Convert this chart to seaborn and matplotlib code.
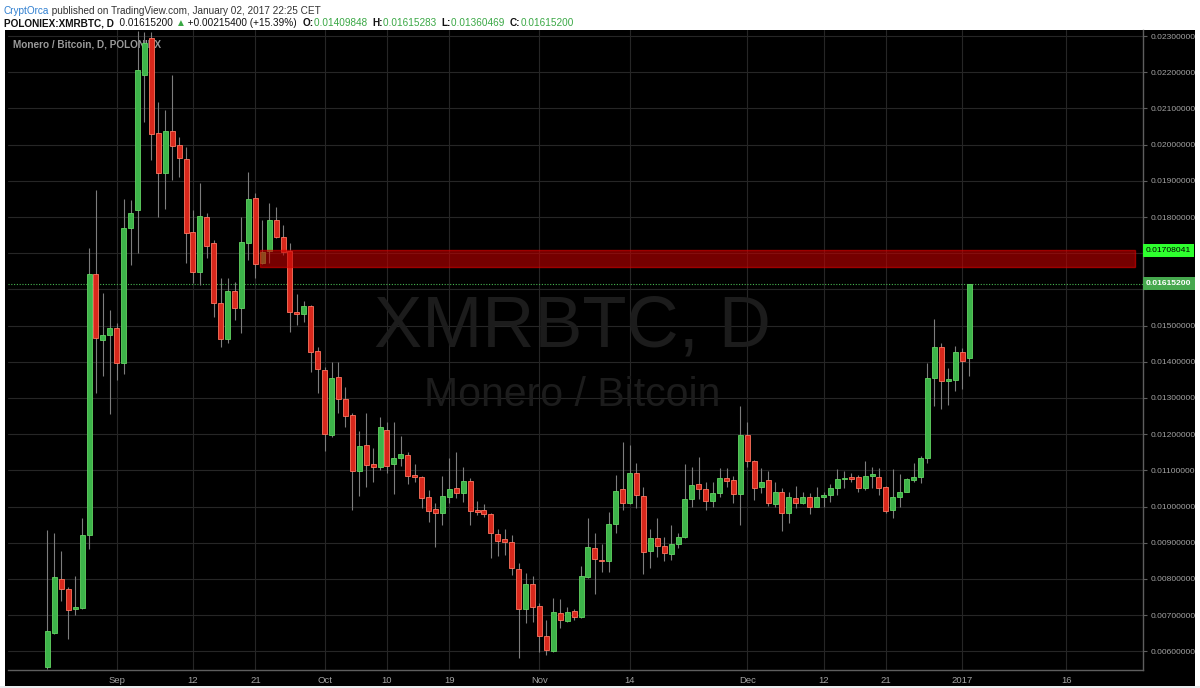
import numpy as np
import pandas as pd
import matplotlib
matplotlib.use("Agg")
import matplotlib.pyplot as plt
import matplotlib.dates as mdates
from matplotlib.patches import Rectangle
import seaborn as sns

# daily candles, POLONIEX XMR/BTC, 2016-08-22 .. 2017-01-02
dates = pd.date_range("2016-08-22", "2017-01-02", freq="D")

opens = [0.00557, 0.00651, 0.00800, 0.00773, 0.00718, 0.00720, 0.00922, 0.01643, 0.01460, 0.01474,
         0.01493, 0.01397, 0.01770, 0.01819, 0.02192, 0.02295, 0.02032, 0.01922, 0.02038, 0.01999,
         0.01960, 0.01759, 0.01648, 0.01800, 0.01728, 0.01563, 0.01463, 0.01596, 0.01549, 0.01728,
         0.01853, 0.01673, 0.01706, 0.01792, 0.01745, 0.01706, 0.01538, 0.01532, 0.01554, 0.01430,
         0.01377, 0.01198, 0.01358, 0.01297, 0.01253, 0.01099, 0.01170, 0.01118, 0.01110, 0.01212,
         0.01118, 0.01134, 0.01143, 0.01087, 0.01082, 0.01027, 0.00994, 0.00983, 0.01027, 0.01052,
         0.01038, 0.01071, 0.00991, 0.00991, 0.00980, 0.00925, 0.00911, 0.00903, 0.00828, 0.00718,
         0.00787, 0.00726, 0.00643, 0.00601, 0.00706, 0.00684, 0.00712, 0.00695, 0.00806, 0.00886,
         0.00853, 0.00850, 0.00952, 0.01049, 0.01010, 0.01093, 0.01030, 0.00878, 0.00914, 0.00891,
         0.00869, 0.00897, 0.00916, 0.01021, 0.01063, 0.01049, 0.01016, 0.01038, 0.01079, 0.01074,
         0.01035, 0.01198, 0.01126, 0.01054, 0.01074, 0.01007, 0.01041, 0.00983, 0.01024, 0.01010,
         0.01027, 0.00999, 0.01027, 0.01032, 0.01052, 0.01076, 0.01082, 0.01082, 0.01052, 0.01085,
         0.01082, 0.01054, 0.00991, 0.01027, 0.01041, 0.01074, 0.01082, 0.01134, 0.01355, 0.01441,
         0.01347, 0.01350, 0.01427, 0.01409848]

highs = [0.00935, 0.00927, 0.00878, 0.00778, 0.00809, 0.00969, 0.01714, 0.01875, 0.01590, 0.01543,
         0.01507, 0.01850, 0.01847, 0.02314, 0.02311, 0.02311, 0.02118, 0.02096, 0.02192, 0.02021,
         0.01993, 0.01819, 0.01894, 0.01811, 0.01737, 0.01632, 0.01632, 0.01621, 0.01800, 0.01924,
         0.01866, 0.01792, 0.01839, 0.01828, 0.01778, 0.01728, 0.01587, 0.01568, 0.01557, 0.01441,
         0.01386, 0.01400, 0.01400, 0.01331, 0.01259, 0.01209, 0.01259, 0.01162, 0.01248, 0.01234,
         0.01234, 0.01195, 0.01151, 0.01118, 0.01085, 0.01046, 0.01010, 0.01085, 0.01134, 0.01151,
         0.01110, 0.01079, 0.01016, 0.01007, 0.00983, 0.00938, 0.00938, 0.00922, 0.00845, 0.00817,
         0.00809, 0.00734, 0.00687, 0.00748, 0.00745, 0.00723, 0.00718, 0.00836, 0.00969, 0.00927,
         0.00897, 0.00985, 0.01087, 0.01179, 0.01170, 0.01121, 0.01054, 0.00938, 0.00969, 0.00916,
         0.00949, 0.00927, 0.01118, 0.01110, 0.01137, 0.01068, 0.01068, 0.01107, 0.01107, 0.01085,
         0.01278, 0.01234, 0.01129, 0.01107, 0.01099, 0.01068, 0.01052, 0.01041, 0.01057, 0.01041,
         0.01038, 0.01054, 0.01041, 0.01063, 0.01104, 0.01099, 0.01093, 0.01087, 0.01126, 0.01110,
         0.01107, 0.01057, 0.01104, 0.01090, 0.01079, 0.01121, 0.01140, 0.01397, 0.01518, 0.01452,
         0.01383, 0.01444, 0.01438, 0.01615283]

lows = [0.00552, 0.00648, 0.00740, 0.00635, 0.00701, 0.00718, 0.00883, 0.01314, 0.01361, 0.01256,
        0.01350, 0.01366, 0.01667, 0.01701, 0.02062, 0.01958, 0.01800, 0.01822, 0.01902, 0.01910,
        0.01673, 0.01618, 0.01612, 0.01687, 0.01524, 0.01441, 0.01452, 0.01516, 0.01480, 0.01681,
        0.01632, 0.01670, 0.01673, 0.01742, 0.01695, 0.01482, 0.01502, 0.01510, 0.01372, 0.01314,
        0.01154, 0.01192, 0.01259, 0.01220, 0.00991, 0.01030, 0.01054, 0.01068, 0.01101, 0.01093,
        0.01035, 0.01112, 0.01063, 0.01068, 0.00996, 0.00958, 0.00889, 0.00949, 0.01010, 0.01024,
        0.01013, 0.00949, 0.00977, 0.00972, 0.00858, 0.00864, 0.00867, 0.00811, 0.00582, 0.00679,
        0.00682, 0.00599, 0.00590, 0.00599, 0.00665, 0.00682, 0.00687, 0.00693, 0.00803, 0.00759,
        0.00820, 0.00820, 0.00927, 0.00991, 0.01007, 0.00996, 0.00814, 0.00831, 0.00861, 0.00850,
        0.00853, 0.00886, 0.00914, 0.00999, 0.01021, 0.00991, 0.00999, 0.01027, 0.01054, 0.01010,
        0.00949, 0.01110, 0.01018, 0.01038, 0.01002, 0.00999, 0.00933, 0.00955, 0.00996, 0.01007,
        0.00980, 0.00999, 0.00999, 0.01013, 0.01032, 0.01052, 0.01068, 0.01041, 0.01046, 0.01052,
        0.01032, 0.00983, 0.00969, 0.00999, 0.01041, 0.01068, 0.01065, 0.01121, 0.01278, 0.01270,
        0.01281, 0.01319, 0.01325, 0.01360469]

closes = [0.00657, 0.00806, 0.00773, 0.00715, 0.00723, 0.00922, 0.01643, 0.01466, 0.01474, 0.01493,
          0.01397, 0.01770, 0.01811, 0.02206, 0.02281, 0.02029, 0.01922, 0.02038, 0.01996, 0.01963,
          0.01756, 0.01648, 0.01803, 0.01720, 0.01563, 0.01463, 0.01596, 0.01549, 0.01731, 0.01850,
          0.01670, 0.01703, 0.01792, 0.01745, 0.01703, 0.01538, 0.01532, 0.01554, 0.01427, 0.01380,
          0.01201, 0.01355, 0.01297, 0.01250, 0.01099, 0.01168, 0.01115, 0.01110, 0.01220, 0.01112,
          0.01134, 0.01145, 0.01085, 0.01082, 0.01024, 0.00988, 0.00983, 0.01030, 0.01049, 0.01038,
          0.01071, 0.00988, 0.00985, 0.00980, 0.00927, 0.00905, 0.00903, 0.00831, 0.00718, 0.00787,
          0.00723, 0.00643, 0.00604, 0.00709, 0.00687, 0.00709, 0.00695, 0.00809, 0.00889, 0.00856,
          0.00850, 0.00952, 0.01043, 0.01010, 0.01093, 0.01032, 0.00875, 0.00914, 0.00891, 0.00872,
          0.00897, 0.00916, 0.01021, 0.01060, 0.01049, 0.01016, 0.01038, 0.01079, 0.01071, 0.01035,
          0.01198, 0.01126, 0.01052, 0.01068, 0.01010, 0.01041, 0.00983, 0.01027, 0.01010, 0.01027,
          0.00999, 0.01027, 0.01032, 0.01052, 0.01076, 0.01079, 0.01076, 0.01052, 0.01085, 0.01090,
          0.01052, 0.00988, 0.01027, 0.01041, 0.01076, 0.01082, 0.01134, 0.01355, 0.01441, 0.01347,
          0.01353, 0.01427, 0.01402, 0.01615200]

tick_dates = ["2016-09-01", "2016-09-12", "2016-09-21", "2016-10-01", "2016-10-10", "2016-10-19",
              "2016-11-01", "2016-11-14", "2016-12-01", "2016-12-12", "2016-12-21", "2017-01-01",
              "2017-01-16"]
tick_labels = ["Sep", "12", "21", "Oct", "10", "19", "Nov", "14", "Dec", "12", "21", "2017", "16"]
price_ticks = [0.006, 0.007, 0.008, 0.009, 0.010, 0.011, 0.012, 0.013, 0.014, 0.015,
               0.016, 0.017, 0.018, 0.019, 0.020, 0.021, 0.022, 0.023]
# these two labels sit under the price tags in the original
hidden_ticks = [0.016, 0.017]

# resistance zone drawn by the author
zone_start, zone_end = "2016-09-21 16:00", "2017-01-25 22:00"
zone_low, zone_high = 0.01662, 0.01708041

header_1 = [("CryptOrca", "#2f7fd0", "normal"),
            (" published on TradingView.com, January 02, 2017 22:25 CET", "#333333", "normal")]
header_2 = [("POLONIEX:XMRBTC, D", "#111111", "bold"),
            ("  0.01615200 ", "#111111", "normal"),
            ("\u25B2", "#3aa845", "normal"),
            (" +0.00215400 (+15.39%)  ", "#111111", "normal"),
            ("O:", "#111111", "bold"), ("0.01409848  ", "#3aa845", "normal"),
            ("H:", "#111111", "bold"), ("0.01615283  ", "#3aa845", "normal"),
            ("L:", "#111111", "bold"), ("0.01360469  ", "#3aa845", "normal"),
            ("C:", "#111111", "bold"), ("0.01615200", "#3aa845", "normal")]

sns.set_style("dark", {"axes.facecolor": "black", "grid.color": "#262626"})
plt.rcParams["font.family"] = ["Liberation Sans", "DejaVu Sans"]

W, H = 1200, 688
fig = plt.figure(figsize=(12, 6.88), dpi=100, facecolor="white")
fig.add_artist(Rectangle((0, 0), 1, 2 / H, transform=fig.transFigure,
                         facecolor="#e9ecee", edgecolor="none", zorder=0))
fig.add_artist(Rectangle((5 / W, 2 / H), 1190 / W, 656 / H, transform=fig.transFigure,
                         facecolor="black", edgecolor="none", zorder=0))

ax = fig.add_axes([8 / W, (H - 670) / H, 1135 / W, 640 / H])
ax.set_facecolor("black")

x = mdates.date2num(dates)
o, h, l, c = (np.array(v) for v in (opens, highs, lows, closes))
up = c >= o
body_low = np.minimum(o, c)
body_h = np.maximum(np.abs(c - o), 0.00003)

ax.vlines(x, l, h, color="#7d7d7d", lw=0.8, zorder=3)
ax.bar(x[up], body_h[up], bottom=body_low[up], width=0.72,
       color="#3db44a", edgecolor="#63d463", linewidth=0.6, zorder=4)
ax.bar(x[~up], body_h[~up], bottom=body_low[~up], width=0.72,
       color="#d8281c", edgecolor="#ff7560", linewidth=0.6, zorder=4)

zs, ze = mdates.date2num(pd.Timestamp(zone_start)), mdates.date2num(pd.Timestamp(zone_end))
ax.add_patch(Rectangle((zs, zone_low), ze - zs, zone_high - zone_low,
                       facecolor="#c40000", edgecolor="#e00000", alpha=0.6, lw=1, zorder=5))

last_close = closes[-1]
ax.axhline(last_close, color="#46b450", ls=(0, (1, 1.5)), lw=0.8, zorder=2)

# watermark and pane title
ax.text(0.497, 0.535, "XMRBTC, D", transform=ax.transAxes, ha="center", va="center",
        fontsize=52, color="#1c1c1c", zorder=1)
ax.text(0.497, 0.43, "Monero / Bitcoin", transform=ax.transAxes, ha="center", va="center",
        fontsize=29.5, color="#1c1c1c", zorder=1)
ax.text(0.004, 0.977, "Monero / Bitcoin, D, POLONIEX", transform=ax.transAxes,
        ha="left", va="center", fontsize=7.2, fontweight="bold", color="#9a9a9a", zorder=1)

sep1 = mdates.date2num(pd.Timestamp("2016-09-01"))
ax.set_xlim(sep1 - 15.69, sep1 + 148.1)
ax.set_ylim(0.005486, 0.023166)

ax.set_xticks(mdates.date2num(pd.to_datetime(tick_dates)))
ax.set_xticklabels(tick_labels)
ax.yaxis.tick_right()
ax.set_yticks(price_ticks)
ax.set_yticklabels(["" if p in hidden_ticks else f"{p:.8f}" for p in price_ticks])
ax.tick_params(axis="both", colors="#5e5e5e", labelcolor="#a3a3a3",
               length=3, width=0.8, direction="out")
ax.tick_params(axis="x", pad=1.5, labelsize=6.8)
ax.tick_params(axis="y", pad=2.2, labelsize=6.1)
ax.grid(True, color="#262626", lw=0.8)
for side in ("top", "left"):
    ax.spines[side].set_visible(False)
for side in ("bottom", "right"):
    ax.spines[side].set_color("#5e5e5e")
    ax.spines[side].set_linewidth(1)

# price tags on the axis
tags = [(zone_high, "#2eff2e", "black", "normal"), (last_close, "#46a84e", "white", "bold")]
for value, face, fg, weight in tags:
    ax.annotate(f"{value:.8f}", xy=(1, value), xycoords=("axes fraction", "data"),
                xytext=(2.2, 0), textcoords="offset points", ha="left", va="center",
                fontsize=6.1, color=fg, fontweight=weight,
                annotation_clip=False, zorder=10,
                bbox=dict(boxstyle="square,pad=0.35", fc=face, ec="none"))

# header lines, placed run by run
renderer = fig.canvas.get_renderer()
for runs, base in ((header_1, 14), (header_2, 26)):
    xpos = 4
    for text, color, weight in runs:
        t = fig.text(xpos / W, 1 - base / H, text, color=color, fontsize=7.2,
                     fontweight=weight, ha="left", va="baseline")
        xpos += t.get_window_extent(renderer).width

fig.savefig("out.png", dpi=100, facecolor=fig.get_facecolor())
